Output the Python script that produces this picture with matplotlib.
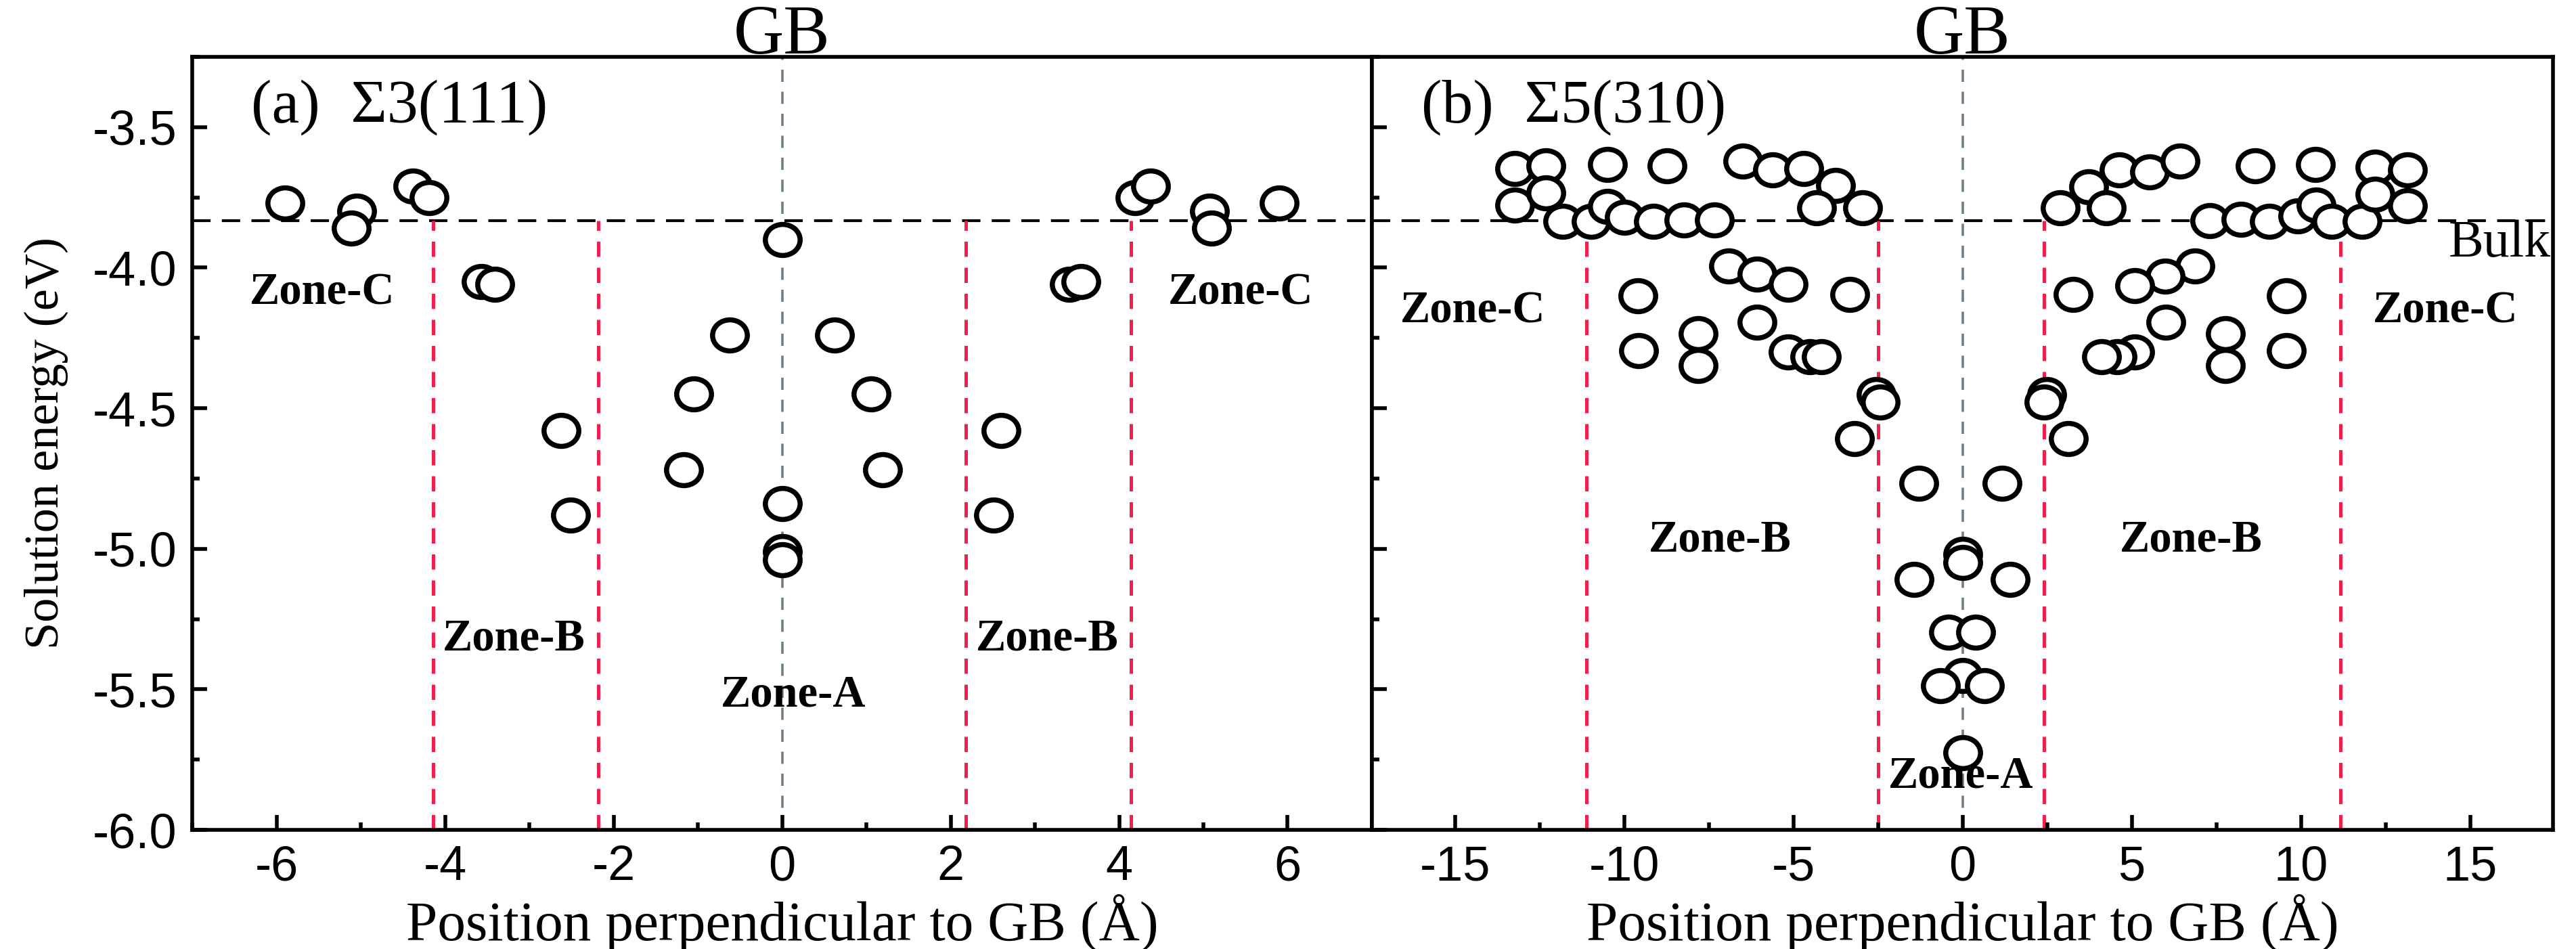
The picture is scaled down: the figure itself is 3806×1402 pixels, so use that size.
import matplotlib
matplotlib.use('Agg')
import matplotlib.pyplot as plt
from matplotlib.path import Path
from matplotlib.transforms import Affine2D, blended_transform_factory
from matplotlib.ticker import MultipleLocator, FormatStrFormatter

plt.rcParams['font.family'] = ['Liberation Serif', 'DejaVu Serif']
plt.rcParams['axes.unicode_minus'] = False

# (a) Sigma3(111): position (A) and solution energy (eV)
x_a = [-5.90, -5.05, -5.11, -4.38, -4.19, -3.57, -3.41, -2.62, -2.51, -1.17,
       -1.05, -0.62, 0.00, 0.00, 0.00, 0.00, 0.62, 1.06, 1.19, 2.51,
       2.60, 3.41, 3.55, 4.19, 4.37, 5.07, 5.10, 5.90]
y_a = [-3.77, -3.80, -3.86, -3.71, -3.75, -4.05, -4.06, -4.58, -4.88, -4.72,
       -4.45, -4.24, -3.90, -4.84, -5.01, -5.04, -4.24, -4.45, -4.72, -4.88,
       -4.58, -4.06, -4.05, -3.75, -3.71, -3.80, -3.86, -3.77]

# (b) Sigma5(310)
x_b = [-13.23, -12.31, -10.49, -8.73, -6.49, -5.62, -4.69, -3.75,
       -13.23, -12.31, -11.82, -10.98, -10.49, -10.00, -9.13, -8.24, -7.33, -4.31, -2.95,
       -6.91, -6.07, -5.15, -3.33, -9.60, -6.07, -7.82, -9.58, -7.82, -5.15, -4.52, -4.17,
       -2.56, -2.44, -3.19,
       -1.29, 1.16, -1.43, 1.40, 0.00, 0.00, -0.42, 0.39, 0.00, -0.66, 0.65, 0.00,
       2.89, 3.72, 4.62, 5.52, 6.43, 8.64, 10.43, 12.19, 13.14, 4.25,
       7.30, 8.22, 9.07, 9.91, 10.45, 10.91, 11.80, 12.19, 13.14,
       6.87, 5.98, 5.08, 3.27, 9.56, 6.01, 7.76, 9.56, 7.76, 5.08, 4.56, 4.10,
       2.48, 2.40, 3.12]
y_b = [-3.647, -3.638, -3.633, -3.638, -3.621, -3.652, -3.647, -3.708,
       -3.778, -3.734, -3.836, -3.836, -3.783, -3.821, -3.836, -3.831, -3.831, -3.787, -3.787,
       -3.993, -4.024, -4.060, -4.095, -4.101, -4.193, -4.235, -4.295, -4.347, -4.300, -4.316, -4.316,
       -4.452, -4.478, -4.609,
       -4.768, -4.768, -5.109, -5.109, -5.020, -5.050, -5.297, -5.297, -5.450, -5.486, -5.486, -5.725,
       -3.787, -3.713, -3.652, -3.660, -3.621, -3.638, -3.633, -3.643, -3.652, -3.787,
       -3.833, -3.828, -3.836, -3.816, -3.778, -3.836, -3.836, -3.739, -3.780,
       -3.995, -4.029, -4.063, -4.095, -4.101, -4.193, -4.235, -4.295, -4.347, -4.300, -4.316, -4.316,
       -4.452, -4.478, -4.609]

bulk_energy = -3.833
bounds_a = [-4.14, -2.18, 2.18, 4.14]
bounds_b = [-11.12, -2.50, 2.40, 11.17]

red = '#f0204c'
gray = '#6f7f88'

# circles in the source are a little wider than tall
ellipse = Path.unit_circle().transformed(Affine2D().scale(1.12, 1.0))

fig = plt.figure(figsize=(19.03, 7.01), dpi=200)
ax1 = fig.add_axes([0.07462, 0.12553, 0.45796, 0.81455])
ax2 = fig.add_axes([0.53258, 0.12553, 0.45849, 0.81455])


def draw_panel(ax, xs, ys, bounds, xlim, major, minor):
    ax.axvline(0, color=gray, ls=(0, (5, 4)), lw=1.3, zorder=1)
    ax.axhline(bulk_energy, color='k', ls=(0, (6.5, 4)), lw=1.5, zorder=1)
    for b in bounds:
        ax.plot([b, b], [-6.0, bulk_energy], color=red, ls=(0, (4.5, 3.2)), lw=1.8, zorder=1)
    ax.plot(xs, ys, ls='none', marker=ellipse, ms=18.5, mfc='white', mec='k', mew=2.7, zorder=3)

    ax.set_xlim(*xlim)
    ax.set_ylim(-6.0, -3.25)
    ax.xaxis.set_major_locator(MultipleLocator(major))
    ax.xaxis.set_minor_locator(MultipleLocator(minor))
    ax.yaxis.set_major_locator(MultipleLocator(0.5))
    ax.yaxis.set_minor_locator(MultipleLocator(0.25))
    ax.yaxis.set_major_formatter(FormatStrFormatter('%.1f'))
    ax.tick_params(which='both', direction='in', top=False, right=False, width=2.0,
                   labelsize=26, labelfontfamily='Liberation Sans', pad=8)
    ax.tick_params(which='major', length=8)
    ax.tick_params(which='minor', length=4)
    for s in ax.spines.values():
        s.set_linewidth(2.0)
    ax.set_xlabel('Position perpendicular to GB (Å)', fontsize=30, labelpad=2)

    trans = blended_transform_factory(ax.transData, ax.transAxes)
    ax.text(0, 1.004, 'GB', transform=trans, ha='center', va='baseline', fontsize=37)


draw_panel(ax1, x_a, y_a, bounds_a, (-7, 7), 2, 1)
draw_panel(ax2, x_b, y_b, bounds_b, (-17.45, 17.45), 5, 2.5)
ax2.tick_params(labelleft=False)

ax1.set_ylabel('Solution energy (eV)', fontsize=26)
ax1.yaxis.set_label_coords(-0.105, 0.5)

ax1.text(-6.30, -3.43, '(a)  Σ3(111)', ha='left', va='center', fontsize=33)
ax2.text(-16.0, -3.43, '(b)  Σ5(310)', ha='left', va='center', fontsize=33)

zone = dict(fontsize=24, fontweight='bold', ha='center', va='center')
ax1.text(-5.46, -4.09, 'Zone-C', **zone)
ax1.text(5.44, -4.09, 'Zone-C', **zone)
ax1.text(-3.18, -5.32, 'Zone-B', **zone)
ax1.text(3.15, -5.32, 'Zone-B', **zone)
ax1.text(0.13, -5.52, 'Zone-A', **zone)

ax2.text(-14.47, -4.155, 'Zone-C', **zone)
ax2.text(14.27, -4.155, 'Zone-C', **zone)
ax2.text(-7.16, -4.97, 'Zone-B', **zone)
ax2.text(6.75, -4.97, 'Zone-B', **zone)
ax2.text(-0.04, -5.81, 'Zone-A', zorder=4, **zone)
ax2.text(17.38, -3.96, 'Bulk', ha='right', va='baseline', fontsize=28)

fig.savefig('out.png', dpi=200)
